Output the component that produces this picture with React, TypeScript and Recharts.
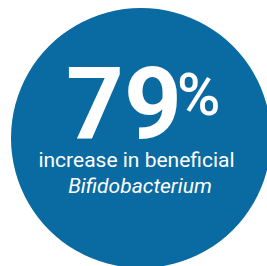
import { PieChart, Pie, Cell, Label } from 'recharts';

const slices = ['Bifidobacterium'];
const values = [79];
const headline = '79';
const unit = '%';
const captionLines = ['increase in beneficial', 'Bifidobacterium'];

const data = slices.map((name, i) => ({ name, value: values[i] }));

const CX = 141;
const CY = 138;

const renderText = () => {
  const cx = CX;
  const cy = CY;
  return (
    <g fontFamily="Roboto" fill="#ffffff">
      <text x={cx - 75} y={cy} fontSize={101} fontWeight={700} textAnchor="start">
        {headline}
      </text>
      <text x={cx + 36} y={cy - 23} fontSize={59} fontWeight={500} textAnchor="start">
        {unit}
      </text>
      <text x={cx - 4.5} y={cy + 29} fontSize={21} textAnchor="middle">
        {captionLines[0]}
      </text>
      <text x={cx - 1} y={cy + 55} fontSize={21} fontStyle="italic" textAnchor="middle">
        {captionLines[1]}
      </text>
    </g>
  );
};

export default function App() {
  return (
    <div style={{ position: 'absolute', left: 0, top: 0, width: 267, height: 266, background: '#fff' }}>
      <PieChart width={267} height={266} margin={{ top: 0, right: 0, bottom: 0, left: 0 }}>
        <Pie
          data={data}
          dataKey="value"
          nameKey="name"
          cx={CX}
          cy={CY}
          innerRadius={0}
          outerRadius={130}
          startAngle={90}
          endAngle={-270}
          stroke="none"
          isAnimationActive={false}
        >
          {data.map((d) => (
            <Cell key={d.name} fill="#0a6aa2" />
          ))}
          <Label position="center" content={renderText} />
        </Pie>
      </PieChart>
    </div>
  );
}
